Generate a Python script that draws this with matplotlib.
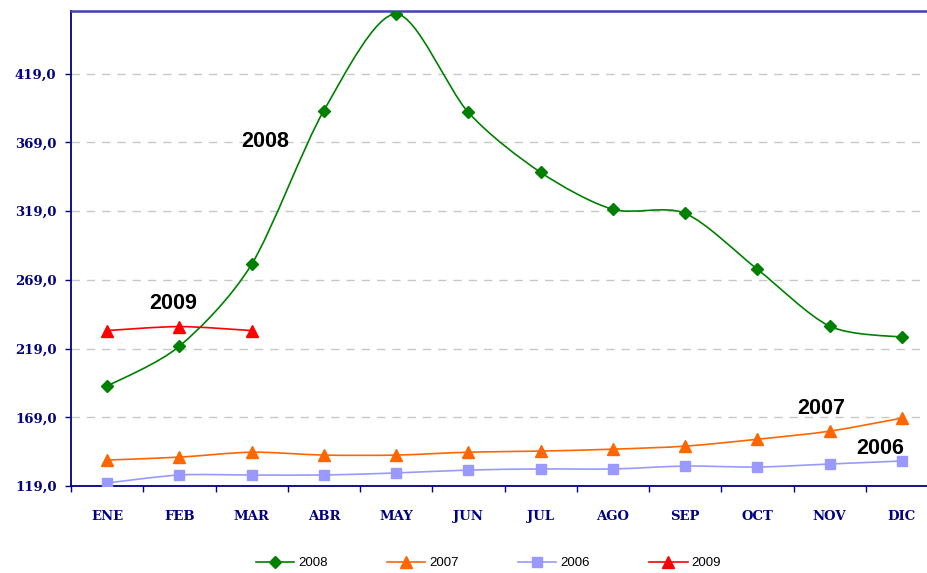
import numpy as np
import matplotlib
matplotlib.use("Agg")
import matplotlib.pyplot as plt
from matplotlib.path import Path
from matplotlib.patches import PathPatch
from matplotlib.lines import Line2D

# --------------------------
# Data
# --------------------------
months = ["ENE", "FEB", "MAR", "ABR", "MAY", "JUN", "JUL", "AGO", "SEP", "OCT", "NOV", "DIC"]
v2008 = [191.7, 220.7, 280.3, 392.2, 462.5, 390.8, 347.2, 320.3, 317.4, 276.7, 235.3, 227.3]
v2007 = [137.9, 140.0, 143.6, 141.5, 141.5, 143.6, 144.4, 145.8, 148.0, 153.0, 158.9, 168.4]
v2006 = [121.2, 127.0, 127.0, 127.0, 128.5, 130.6, 131.4, 131.4, 133.5, 132.8, 135.0, 137.2]
v2009 = [232.1, 235.0, 232.1]
yticks = [119, 169, 219, 269, 319, 369, 419]

NAVY = "#000080"


def smooth_path(xs, ys, k=7.0):
    # Excel-like smoothed line: cubic bezier through the points
    p = np.column_stack([xs, ys]).astype(float)
    pts = np.vstack([p[0], p, p[-1]])
    verts = [tuple(p[0])]
    codes = [Path.MOVETO]
    for i in range(1, len(pts) - 2):
        p0, p1, p2, p3 = pts[i - 1], pts[i], pts[i + 1], pts[i + 2]
        c1 = p1 + (p2 - p0) / k
        c2 = p2 - (p3 - p1) / k
        verts += [tuple(c1), tuple(c2), tuple(p2)]
        codes += [Path.CURVE4] * 3
    return Path(verts, codes)


fig = plt.figure(figsize=(9.27, 5.73), dpi=100)
W, H = 927, 573
ax = fig.add_axes([71 / W, (H - 486) / H, 867 / W, (486 - 10.5) / H])

series = [
    ("2008", v2008, "#008000", "D", 6.5),
    ("2007", v2007, "#FF6600", "^", 8),
    ("2006", v2006, "#9999FF", "s", 7.5),
    ("2009", v2009, "#FF0000", "^", 8),
]

handles = []
for name, vals, col, mk, ms in series:
    x = np.arange(len(vals))
    ax.add_patch(PathPatch(smooth_path(x, vals), fill=False, edgecolor=col, lw=1.2, zorder=3))
    ax.plot(x, vals, ls="none", marker=mk, ms=ms, color=col, zorder=4)
    handles.append(Line2D([], [], color=col, lw=1.2, marker=mk, ms=ms, label=name))

ax.set_xlim(-0.5, 11.5)
ax.set_ylim(119, 465)

ax.set_yticks(yticks)
ax.set_yticklabels([f"{v},0" for v in yticks])
ax.set_xticks(range(12))
ax.set_xticklabels(months)
ax.set_xticks(np.arange(-0.5, 12, 1), minor=True)

for lbl in ax.get_xticklabels() + ax.get_yticklabels():
    lbl.set_fontfamily("DejaVu Serif")
    lbl.set_fontweight("bold")
    lbl.set_fontsize(9.5)
    lbl.set_color(NAVY)

ax.tick_params(axis="x", which="major", length=0, pad=17)
ax.tick_params(axis="x", which="minor", length=4.5, color=NAVY, width=1)
ax.tick_params(axis="y", which="major", length=4.5, color=NAVY, width=1, pad=6)

for v in yticks[1:]:
    ax.axhline(v, color="#c8c8c8", lw=1, ls=(0, (6, 5)), zorder=1)

ax.spines["left"].set_color(NAVY)
ax.spines["left"].set_linewidth(1.3)
ax.spines["bottom"].set_color(NAVY)
ax.spines["bottom"].set_linewidth(1.3)
ax.spines["top"].set_color("#4040b0")
ax.spines["top"].set_linewidth(1.8)
ax.spines["right"].set_visible(False)

# series labels
lab_kw = dict(fontfamily="Liberation Sans", fontweight="bold", fontsize=15.5,
              ha="center", va="center", color="black", zorder=5)
ax.text(2.185, 369.7, "2008", **lab_kw)
ax.text(0.912, 252.0, "2009", **lab_kw)
ax.text(9.89, 175.7, "2007", **lab_kw)
ax.text(10.7, 146.6, "2006", **lab_kw)

ax.legend(handles=handles, loc="center", bbox_to_anchor=(0.4815, -0.162), ncol=4,
          frameon=False, prop={"family": "Liberation Sans", "size": 9.5},
          handlelength=2.9, handletextpad=0.3, columnspacing=4.5)

fig.savefig("out.png", dpi=100)
